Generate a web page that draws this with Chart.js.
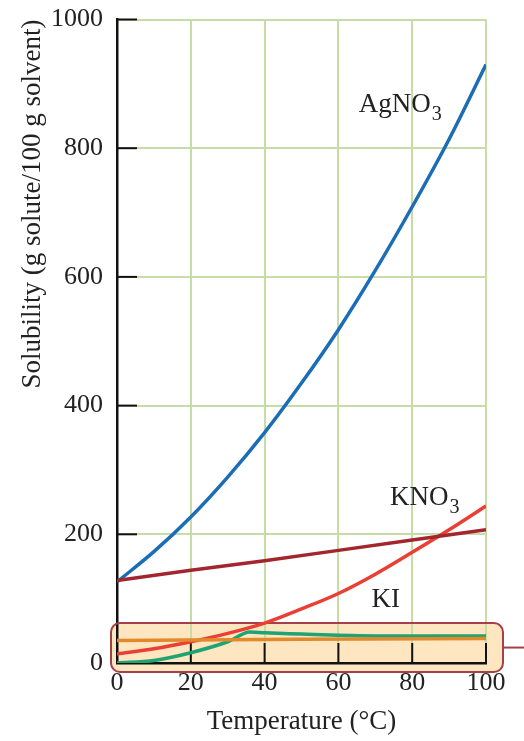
<!DOCTYPE html>
<html>
<head>
<meta charset="utf-8">
<script src="https://cdn.jsdelivr.net/npm/chart.js@4.4.1/dist/chart.umd.min.js"></script>
<style>
  html, body { margin: 0; padding: 0; background: #fff; }
  #wrap { width: 524px; height: 741px; }
</style>
</head>
<body>
<div id="wrap"><canvas id="grafica"></canvas></div>
<script>
// temperaturas (°C)
var temps = [0, 10, 20, 30, 40, 50, 60, 70, 80, 90, 100];
// solubilidad (g soluto / 100 g disolvente)
var agno3 = [126, 173, 227, 289, 358, 435, 518, 610, 709, 814, 930];
var kno3 = [14, 22, 33, 46, 62, 84, 108, 138, 172, 207, 244];
var ki = [128, 144, 159, 175, 191, 207];
var temps_ki = [0, 20, 40, 60, 80, 100];
var temps_verde = [0, 10, 20, 30, 36, 40, 50, 60, 70, 80, 90, 100];
var verde = [0, 4, 16, 33, 48, 47, 45, 43, 42, 42, 42, 42];
var temps_naranja = [0, 50, 100];
var naranja = [35, 37, 38];

// etiquetas de curvas: [texto, subindice, temp, solubilidad]
var etiquetas = [
  ["AgNO", "3", 65.5, 856],
  ["KNO", "3", 74, 246],
  ["KI", "", 69, 87]
];

var fuente = "'Liberation Serif', 'Times New Roman', serif";
var verde_grid = "#c6dda8";

function puntos(xs, ys) {
  var arr = [];
  for (var i = 0; i < xs.length; i++) arr.push({x: xs[i], y: ys[i]});
  return arr;
}

// caja amarilla al fondo de la gráfica
var cajaPlugin = {
  id: 'caja',
  beforeDraw: function(chart) {
    var c = chart.ctx, xs = chart.scales.x, ys = chart.scales.y;
    var l = xs.getPixelForValue(0) - 6, r = xs.getPixelForValue(100) + 17;
    var t = ys.getPixelForValue(62), b = ys.getPixelForValue(0) + 9;
    c.save();
    c.beginPath();
    c.roundRect(l, t, r - l, b - t, 9);
    c.fillStyle = "#fde6c0";
    c.fill();
    c.restore();
  },
  beforeDatasetsDraw: function(chart) {
    var c = chart.ctx, xs = chart.scales.x, ys = chart.scales.y;
    var l = xs.getPixelForValue(0) - 6, r = xs.getPixelForValue(100) + 17;
    var t = ys.getPixelForValue(62), b = ys.getPixelForValue(0) + 9;
    c.save();
    c.strokeStyle = "#a5404a";
    c.lineWidth = 2;
    c.beginPath();
    c.roundRect(l, t, r - l, b - t, 9);
    c.stroke();
    c.beginPath();
    c.moveTo(r, (t + b) / 2);
    c.lineTo(chart.width, (t + b) / 2);
    c.stroke();
    // marcas hacia dentro
    c.strokeStyle = "#111";
    c.lineWidth = 2;
    var y0 = ys.getPixelForValue(0), x0 = xs.getPixelForValue(0);
    for (var v = 20; v <= 100; v += 20) {
      var px = xs.getPixelForValue(v);
      c.beginPath(); c.moveTo(px, y0); c.lineTo(px, y0 - 20); c.stroke();
    }
    for (var w = 200; w <= 1000; w += 200) {
      var py = ys.getPixelForValue(w);
      c.beginPath(); c.moveTo(x0, py); c.lineTo(x0 + 20, py); c.stroke();
    }
    c.restore();
  },
  afterDraw: function(chart) {
    var c = chart.ctx, xs = chart.scales.x, ys = chart.scales.y;
    c.save();
    c.fillStyle = "#222";
    c.textBaseline = "alphabetic";
    for (var i = 0; i < etiquetas.length; i++) {
      var e = etiquetas[i];
      var px = xs.getPixelForValue(e[2]), py = ys.getPixelForValue(e[3]);
      c.font = "27px " + fuente;
      c.fillText(e[0], px, py);
      if (e[1]) {
        var w = c.measureText(e[0]).width;
        c.font = "20px " + fuente;
        c.fillText(e[1], px + w + 1, py + 8);
      }
    }
    c.restore();
  }
};

var ctx = document.getElementById('grafica');
var grafica = new Chart(ctx, {
  type: 'line',
  data: {
    datasets: [
      {data: puntos(temps_naranja, naranja), borderColor: "#e2892d", borderWidth: 3.5, tension: 0},
      {data: puntos(temps_verde, verde), borderColor: "#1ea374", borderWidth: 3.5, cubicInterpolationMode: 'monotone'},
      {data: puntos(temps_ki, ki), borderColor: "#a3262e", borderWidth: 3.5, tension: 0},
      {data: puntos(temps, kno3), borderColor: "#ea3f33", borderWidth: 3.5, cubicInterpolationMode: 'monotone'},
      {data: puntos(temps, agno3), borderColor: "#1b6db5", borderWidth: 3.5, cubicInterpolationMode: 'monotone'}
    ]
  },
  options: {
    responsive: true,
    maintainAspectRatio: false,
    animation: false,
    events: [],
    layout: {padding: {top: 19.5, right: 38, left: 0, bottom: 0}},
    elements: {point: {radius: 0}},
    plugins: {legend: {display: false}, tooltip: {enabled: false}},
    scales: {
      x: {
        type: 'linear', min: 0, max: 100,
        ticks: {stepSize: 20, color: "#222", padding: 5, font: {family: fuente, size: 26}},
        grid: {color: verde_grid, lineWidth: 2, drawTicks: false},
        border: {color: "#111", width: 2.5},
        title: {display: true, text: "Temperature (°C)", color: "#222",
                font: {family: fuente, size: 27}, padding: {top: 0, bottom: 3}},
        afterFit: function(scale) { scale.height = 78; scale.paddingRight = 0; scale.paddingLeft = 0; }
      },
      y: {
        min: 0, max: 1000,
        ticks: {stepSize: 200, color: "#222", padding: 14, font: {family: fuente, size: 26},
                callback: function(v) { return String(v); }},
        grid: {color: verde_grid, lineWidth: 2, drawTicks: false},
        border: {color: "#111", width: 2.5},
        title: {display: true, text: "Solubility (g solute/100 g solvent)", color: "#222", align: 'end',
                font: {family: fuente, size: 27}, padding: {top: 17, bottom: 0}},
        afterFit: function(scale) { scale.width = 117; scale.paddingTop = 0; scale.paddingBottom = 0; }
      }
    }
  },
  plugins: [cajaPlugin]
});
</script>
</body>
</html>
